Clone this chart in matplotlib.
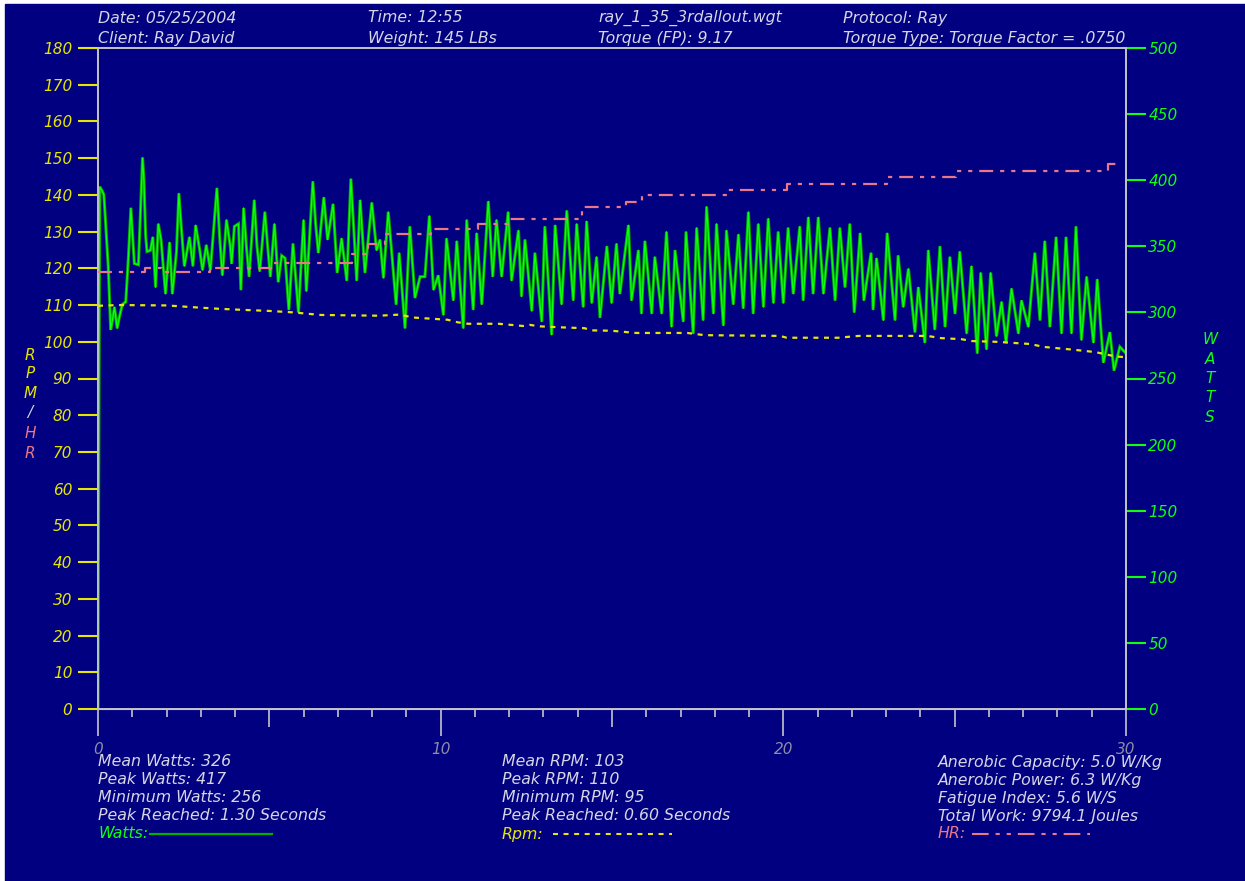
import matplotlib
matplotlib.use("Agg")
import matplotlib.pyplot as plt
from matplotlib.patches import Rectangle
from matplotlib.lines import Line2D

# ---------------------------------------------------------------- data
# Power output (W) at turning points of the pedal-stroke oscillation
watts_t = [
    0.00, 0.01, 0.05, 0.12, 0.17, 0.20, 0.25, 0.30, 0.33, 0.37, 0.42, 0.48, 0.56, 0.62, 0.71, 0.81,
    0.89, 0.96, 1.06, 1.18, 1.30, 1.34, 1.39, 1.43, 1.53, 1.60, 1.68, 1.76, 1.84, 1.97, 2.09, 2.17,
    2.29, 2.36, 2.44, 2.52, 2.67, 2.77, 2.85, 2.97, 3.05, 3.16, 3.28, 3.43, 3.47, 3.55, 3.63, 3.75,
    3.86, 3.90, 3.98, 4.10, 4.17, 4.25, 4.33, 4.41, 4.56, 4.64, 4.72, 4.87, 4.95, 5.03, 5.15, 5.26,
    5.36, 5.46, 5.57, 5.69, 5.85, 6.00, 6.08, 6.27, 6.35, 6.43, 6.59, 6.70, 6.86, 6.98, 7.11, 7.26,
    7.38, 7.55, 7.65, 7.79, 7.99, 8.13, 8.23, 8.33, 8.47, 8.70, 8.79, 8.96, 9.10, 9.25, 9.40, 9.54,
    9.67, 9.79, 9.93, 10.08, 10.17, 10.37, 10.47, 10.66, 10.76, 10.95, 11.05, 11.20, 11.39, 11.52,
    11.63, 11.78, 11.97, 12.07, 12.27, 12.36, 12.46, 12.66, 12.75, 12.95, 13.04, 13.24, 13.34, 13.53,
    13.68, 13.87, 13.97, 14.16, 14.26, 14.41, 14.55, 14.65, 14.85, 14.99, 15.13, 15.23, 15.48, 15.57,
    15.77, 15.86, 15.96, 16.16, 16.25, 16.45, 16.59, 16.74, 16.84, 17.08, 17.16, 17.37, 17.47, 17.66,
    17.76, 17.96, 18.05, 18.25, 18.34, 18.54, 18.69, 18.83, 18.98, 19.12, 19.27, 19.42, 19.56, 19.71,
    19.85, 20.00, 20.14, 20.29, 20.48, 20.58, 20.73, 20.87, 21.02, 21.17, 21.36, 21.51, 21.65, 21.80,
    21.94, 22.07, 22.24, 22.35, 22.56, 22.62, 22.72, 22.92, 23.03, 23.26, 23.35, 23.50, 23.65, 23.84,
    23.94, 24.13, 24.23, 24.42, 24.57, 24.72, 24.86, 25.01, 25.15, 25.35, 25.49, 25.66, 25.76, 25.93,
    26.05, 26.22, 26.37, 26.50, 26.66, 26.86, 26.95, 27.15, 27.34, 27.49, 27.63, 27.78, 27.96, 28.12,
    28.25, 28.41, 28.54, 28.70, 28.85, 29.05, 29.16, 29.34, 29.53, 29.65, 29.82, 30.00,
]
watts = [
    0, 100, 395, 392, 389, 377, 355, 334, 314, 287, 294, 304, 288, 296, 306, 308,
    343, 379, 337, 336, 417, 400, 358, 346, 347, 357, 319, 367, 355, 314, 353, 314,
    346, 390, 361, 335, 357, 335, 366, 347, 332, 351, 332, 381, 394, 357, 328, 370,
    350, 337, 365, 367, 317, 379, 350, 327, 385, 350, 331, 376, 350, 327, 367, 323,
    343, 341, 302, 352, 300, 370, 316, 399, 367, 345, 387, 355, 382, 330, 356, 324,
    401, 324, 385, 330, 383, 347, 355, 326, 376, 306, 345, 288, 365, 311, 327, 327,
    373, 317, 328, 298, 356, 309, 354, 288, 370, 302, 360, 306, 384, 327,
    370, 327, 376, 324, 362, 312, 355, 301, 345, 293, 365, 283, 366, 306,
    377, 309, 367, 304, 369, 307, 342, 296, 350, 307, 352, 314, 366, 309,
    347, 299, 354, 299, 342, 299, 361, 289, 347, 293, 361, 284, 364, 294,
    380, 299, 367, 290, 362, 306, 359, 303, 376, 299, 367, 304, 371, 307,
    361, 307, 364, 314, 365, 309, 372, 314, 372, 314, 364, 309, 364, 319,
    367, 300, 360, 309, 345, 302, 341, 294, 360, 294, 343, 304, 333, 285,
    319, 277, 347, 287, 350, 289, 342, 299, 346, 284, 335, 269, 330, 272,
    330, 282, 308, 277, 318, 284, 309, 289, 345, 294, 354, 289, 357, 284,
    357, 284, 365, 279, 327, 277, 325, 262, 285, 256, 274, 269,
]

# Cadence (RPM)
rpm_t = [0.0, 0.6, 2.0, 2.8, 3.5, 4.2, 5.0, 5.7, 6.5, 8.2, 8.8, 9.2, 9.7, 10.2, 10.5,
         10.8, 11.7, 12.4, 12.6, 12.9, 13.6, 14.2, 14.4, 15.0, 15.7, 17.2, 17.7, 19.9,
         20.1, 21.6, 22.2, 24.2, 24.6, 25.2, 25.5, 26.2, 27.2, 27.6, 28.4, 29.1, 29.4,
         29.7, 30.0]
rpm = [109.8, 110.0, 109.9, 109.4, 109.0, 108.7, 108.4, 108.0, 107.3, 107.1, 107.4,
       106.6, 106.3, 106.0, 105.3, 104.9, 104.9, 104.3, 104.6, 104.2, 103.9, 103.7,
       103.1, 103.0, 102.4, 102.4, 101.8, 101.6, 101.1, 101.1, 101.6, 101.6, 101.0,
       100.7, 100.2, 100.0, 99.4, 98.6, 97.9, 97.2, 96.6, 96.0, 95.8]

# Heart rate (bpm), held between readings
hr_t = [0.0, 1.37, 1.86, 3.27, 5.12, 7.40, 7.89, 8.38, 9.72, 11.10, 11.98, 14.12,
        15.41, 15.89, 18.39, 20.10, 23.02, 25.04, 29.48, 29.85]
hr = [119.0, 120.2, 119.0, 120.2, 121.5, 124.0, 126.5, 129.3, 130.7, 132.2, 133.5,
      136.7, 138.1, 139.9, 141.3, 143.1, 144.9, 146.6, 148.4, 148.4]

header_left = ["Date: 05/25/2004", "Client: Ray David"]
header_mid = ["Time: 12:55", "Weight: 145 LBs"]
header_file = ["ray_1_35_3rdallout.wgt", "Torque (FP): 9.17"]
header_right = ["Protocol: Ray", "Torque Type: Torque Factor = .0750"]

stats_watts = ["Mean Watts: 326", "Peak Watts: 417", "Minimum Watts: 256",
               "Peak Reached: 1.30 Seconds"]
stats_rpm = ["Mean RPM: 103", "Peak RPM: 110", "Minimum RPM: 95",
             "Peak Reached: 0.60 Seconds"]
stats_other = ["Anerobic Capacity: 5.0 W/Kg", "Anerobic Power: 6.3 W/Kg",
               "Fatigue Index: 5.6 W/S", "Total Work: 9794.1 Joules"]

# ---------------------------------------------------------------- style
W, H, DPI = 1245, 881, 100
plt.rcParams["font.family"] = ["DejaVu Sans"]
plt.rcParams["font.style"] = "italic"
plt.rcParams["lines.scale_dashes"] = False

NAVY = "#000080"
TEXT = "#d6d6e6"
FRAME = "#c4c4cc"
XLBL = "#8c8ca8"
YELLOW = "#e6e600"
GREEN = "#10ff10"
DKGREEN = "#00b000"
PINK = "#e87888"
FS = 11.3

fig = plt.figure(figsize=(W / DPI, H / DPI), dpi=DPI, facecolor="white")
fig.patches.append(Rectangle((5 / W, 0), 1 - 5 / W, 1 - 4 / H,
                             transform=fig.transFigure, color=NAVY, zorder=-10))


def px_text(x, y, s, **kw):
    kw.setdefault("color", TEXT)
    kw.setdefault("fontsize", FS)
    kw.setdefault("va", "center")
    kw.setdefault("ha", "left")
    return fig.text(x / W, 1 - y / H, s, **kw)


def px_line(x0, x1, y, **kw):
    fig.add_artist(Line2D([x0 / W, x1 / W], [1 - y / H, 1 - y / H],
                          transform=fig.transFigure, **kw))


# ---------------------------------------------------------------- axes
L, R, T, B = 98, 1126, 48, 709
rect = [L / W, (H - B) / H, (R - L) / W, (B - T) / H]

# watts axis (right scale) sits underneath the rpm/hr axis
axw = fig.add_axes(rect)
axw.set_facecolor(NAVY)
ax = fig.add_axes(rect, sharex=axw)
ax.patch.set_visible(False)
ax.set_zorder(axw.get_zorder() + 1)

ax.set_xlim(0, 30)
ax.set_ylim(0, 180)
axw.set_ylim(0, 500)

axw.yaxis.tick_right()
axw.plot(watts_t, watts, color=DKGREEN, lw=2.2, solid_joinstyle="miter", zorder=2)
axw.plot(watts_t, watts, color=GREEN, lw=0.9, zorder=3)

ax.plot(rpm_t, rpm, color=YELLOW, lw=1.6, dashes=(3.6, 4.0), zorder=4)
ax.plot(hr_t, hr, color=PINK, lw=1.6, drawstyle="steps-post",
        dashes=(10, 5, 3, 5, 3, 5), zorder=4)

for a in (ax, axw):
    for sp in a.spines.values():
        sp.set_color(FRAME)
        sp.set_linewidth(1.2)

ax.set_yticks(range(0, 181, 10))
ax.tick_params(axis="y", left=True, right=False, labelleft=True, labelright=False,
               colors=YELLOW, length=14.5, width=1.5, pad=4, labelsize=11)
axw.set_yticks(range(0, 501, 50))
axw.tick_params(axis="y", colors=GREEN, length=14.5, width=1.5, pad=1.5, labelsize=11)

ax.set_xticks([0, 10, 20, 30])
ax.set_xticks([i for i in range(31) if i % 5], minor=True)
ax.tick_params(axis="x", which="major", length=19.5, width=1.2, color=FRAME,
               labelcolor=XLBL, pad=4, labelsize=11)
ax.tick_params(axis="x", which="minor", length=6, width=1.2, color=FRAME)
axw.tick_params(axis="x", bottom=False, labelbottom=False, which="both")
sec = ax.secondary_xaxis("bottom")
sec.set_xticks([5, 15, 25])
sec.tick_params(length=13, width=1.2, color=FRAME, labelbottom=False)
sec.spines["bottom"].set_color(FRAME)

# ---------------------------------------------------------------- text
for i, y in enumerate((18, 38)):
    px_text(98, y, header_left[i])
    px_text(368, y, header_mid[i])
    px_text(598, y, header_file[i])
    px_text(843, y, header_right[i])

for ch, y, c in zip("RPM/HR", (355, 374, 393, 413, 433, 453),
                    (YELLOW, YELLOW, YELLOW, TEXT, PINK, PINK)):
    px_text(30, y, ch, color=c, ha="center", fontsize=11)
for ch, y in zip("WATTS", (340, 359, 378, 398, 417)):
    px_text(1210, y, ch, color=GREEN, ha="center", fontsize=11)

rows = (762, 780, 798, 816)
for lines, x in ((stats_watts, 98), (stats_rpm, 502), (stats_other, 938)):
    for s, y in zip(lines, rows):
        px_text(x, y, s)

px_text(98, 834, "Watts:", color=GREEN)
px_line(150, 272, 834, color=DKGREEN, lw=1.6)
px_text(502, 834, "Rpm:", color=YELLOW)
px_line(553, 672, 834, color=YELLOW, lw=1.5, dashes=(3.6, 4.0))
px_text(938, 834, "HR:", color=PINK)
px_line(972, 1090, 834, color=PINK, lw=1.5, dashes=(12, 5, 3, 5, 3, 5))

assert len(watts_t) == len(watts)
assert len(rpm_t) == len(rpm)
assert len(hr_t) == len(hr)

fig.savefig("out.png", dpi=DPI, facecolor=fig.get_facecolor())
